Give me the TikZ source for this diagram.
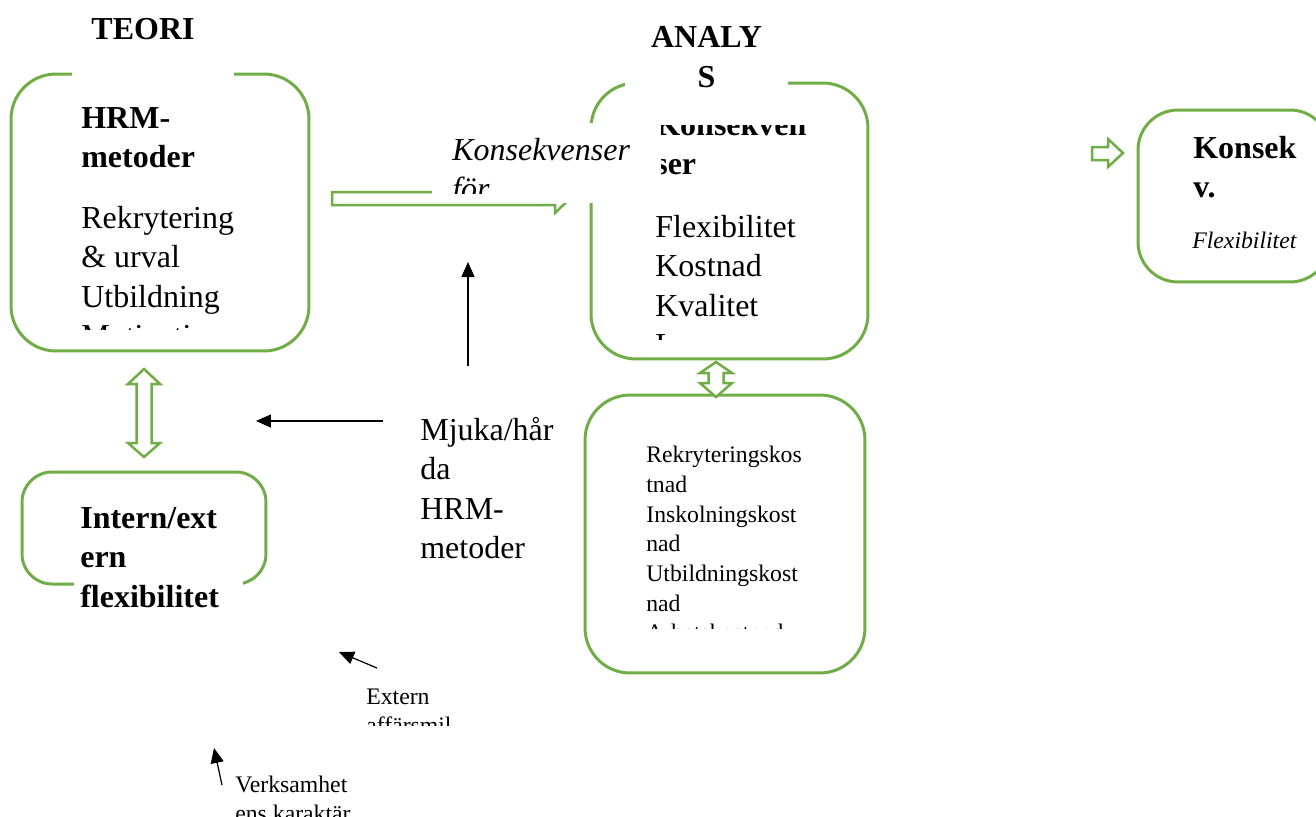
\documentclass[tikz,border=0pt]{standalone}
\usepackage{fontspec}
\setmainfont{Liberation Serif}
\usetikzlibrary{arrows.meta}

\definecolor{hrmgreen}{RGB}{112,173,71}
\newcommand\bigsz{\fontsize{18.2pt}{22.4pt}\selectfont}
\newcommand\smsz{\fontsize{13.5pt}{16.9pt}\selectfont}

\tikzset{
  gbox/.style={draw=hrmgreen, line width=0.06cm, rounded corners=0.9cm, inner sep=0pt},
  blockarr/.style={draw=hrmgreen, line width=0.05cm, fill=white},
  cover/.style={fill=white, draw=none, inner sep=0pt, anchor=north west},
  txt/.style={anchor=base west, align=left, inner sep=0pt, font=\bigsz},
  smtxt/.style={anchor=base west, align=left, inner sep=0pt, font=\smsz},
  pointer/.style={-{Triangle[length=0.3cm,width=0.26cm]}, line width=0.7pt}
}

\begin{document}
\begin{tikzpicture}[x=0.02cm,y=-0.02cm]
\useasboundingbox (0,0) rectangle (1316,816);

% Boxes
\node[gbox, minimum width=5.96cm, minimum height=5.54cm] (hrm) at (160,212.5) {};
\node[gbox, minimum width=5.54cm, minimum height=5.52cm] (analys) at (729.5,221) {};
\node[gbox, minimum width=5.6cm, minimum height=5.56cm] (kost) at (725,534) {};
\node[gbox, rounded corners=0.6cm, minimum width=4.88cm, minimum height=2.24cm] (intern) at (144,528) {};
\node[gbox, rounded corners=0.8cm, minimum width=3.84cm, minimum height=3.44cm] (konsek) at (1234,196) {};

% Block arrows
\draw[blockarr] (332,192) -- (555,192) -- (555,184) -- (570,198.5) -- (555,213)
  -- (555,205) -- (332,205) -- cycle;
\draw[blockarr] (144,369) -- (160,384) -- (151.5,384) -- (151.5,443) -- (160,443)
  -- (144,457) -- (128,443) -- (136.5,443) -- (136.5,384) -- (128,384) -- cycle;
\draw[blockarr] (716,362) -- (732,373) -- (723.5,373) -- (723.5,383) -- (732,383)
  -- (716,397) -- (700,383) -- (708.5,383) -- (708.5,373) -- (700,373) -- cycle;
\draw[blockarr] (1092,147) -- (1108,147) -- (1108,139) -- (1123,153) -- (1108,167)
  -- (1108,160) -- (1092,160) -- cycle;

% Text frames (white)
\node[cover, minimum width=3.24cm, minimum height=0.6cm] (teoriframe) at (72,62) {};
\node[cover, minimum width=3.26cm, minimum height=0.6cm] (analysframe) at (625,70) {};
\node[cover, minimum width=4.6cm, minimum height=1.6cm] (konsforframe) at (432,123) {};
\node[cover, minimum width=3.38cm, minimum height=0.3cm] (internframe) at (74,576) {};

% Titles (base = last line)
\node[anchor=base, inner sep=0pt, font=\bigsz\bfseries] (teori) at (143,39) {TEORI};
\node[anchor=base, align=center, inner sep=0pt, font=\bigsz\bfseries] (analystitle) at (706.5,87) {ANALY\\S};

% HRM-metoder
\node[txt, font=\bigsz\bfseries] (hrmhead) at (81,167.5) {HRM-\\metoder};
\begin{scope}
\clip (60,180) rectangle (300,329);
\node[txt] (hrmlist) at (81,346.5) {Rekrytering\\\& urval\\Utbildning\\Motivation};
\end{scope}

% Konsekvenser for
\begin{scope}
\clip (432,123) rectangle (661,193);
\node[txt, font=\bigsz\itshape] (konsfor) at (452,199.5) {Konsekvenser\\för};
\end{scope}

% Analys
\begin{scope}
\clip (661,125) rectangle (850,339);
\node[txt, font=\bigsz\bfseries] (analyshead) at (655,174.5) {Konsekven\\ser};
\end{scope}
\begin{scope}
\clip (640,200) rectangle (850,339);
\node[txt] (analyslist) at (655,355.5) {Flexibilitet\\Kostnad\\Kvalitet\\L};
\end{scope}

% Kostnader
\begin{scope}
\clip (600,420) rectangle (850,628);
\node[smtxt] (kostlist) at (646,640.8) {Rekryteringskos\\tnad\\Inskolningskost\\nad\\Utbildningskost\\nad\\Arbetskostnad};
\end{scope}

% Intern/extern
\node[txt, font=\bigsz\bfseries] (interntxt) at (80,607) {Intern/ext\\ern\\flexibilitet};

% Right box
\node[txt, font=\bigsz\bfseries] (konsektitle) at (1193,197.5) {Konsek\\v.};
\node[smtxt, font=\smsz\itshape] (konsekflex) at (1192,248) {Flexibilitet};

% Mjuka/harda
\node[txt] (mjuka) at (420,558.5) {Mjuka/hår\\da\\HRM-\\metoder};

% Extern / Verksamhet
\begin{scope}
\clip (350,680) rectangle (480,725);
\node[smtxt] (extern) at (366,733.8) {Extern\\affärsmil};
\end{scope}
\node[smtxt] (verks) at (235,821.8) {Verksamhet\\ens karaktär};

% Arrows
\coordinate (mjukatail) at (383,421);
\coordinate (mjukatip) at (256,421);
\coordinate (uptail) at (468,366);
\coordinate (uptip) at (468,262);
\coordinate (externtail) at (377,668);
\coordinate (externtip) at (339,652);
\coordinate (verkstail) at (222,785);
\coordinate (verkstip) at (214,748);
\draw[pointer] (mjukatail) -- (mjukatip);
\draw[pointer] (uptail) -- (uptip);
\draw[pointer] (externtail) -- (externtip);
\draw[pointer] (verkstail) -- (verkstip);

\end{tikzpicture}
\end{document}
